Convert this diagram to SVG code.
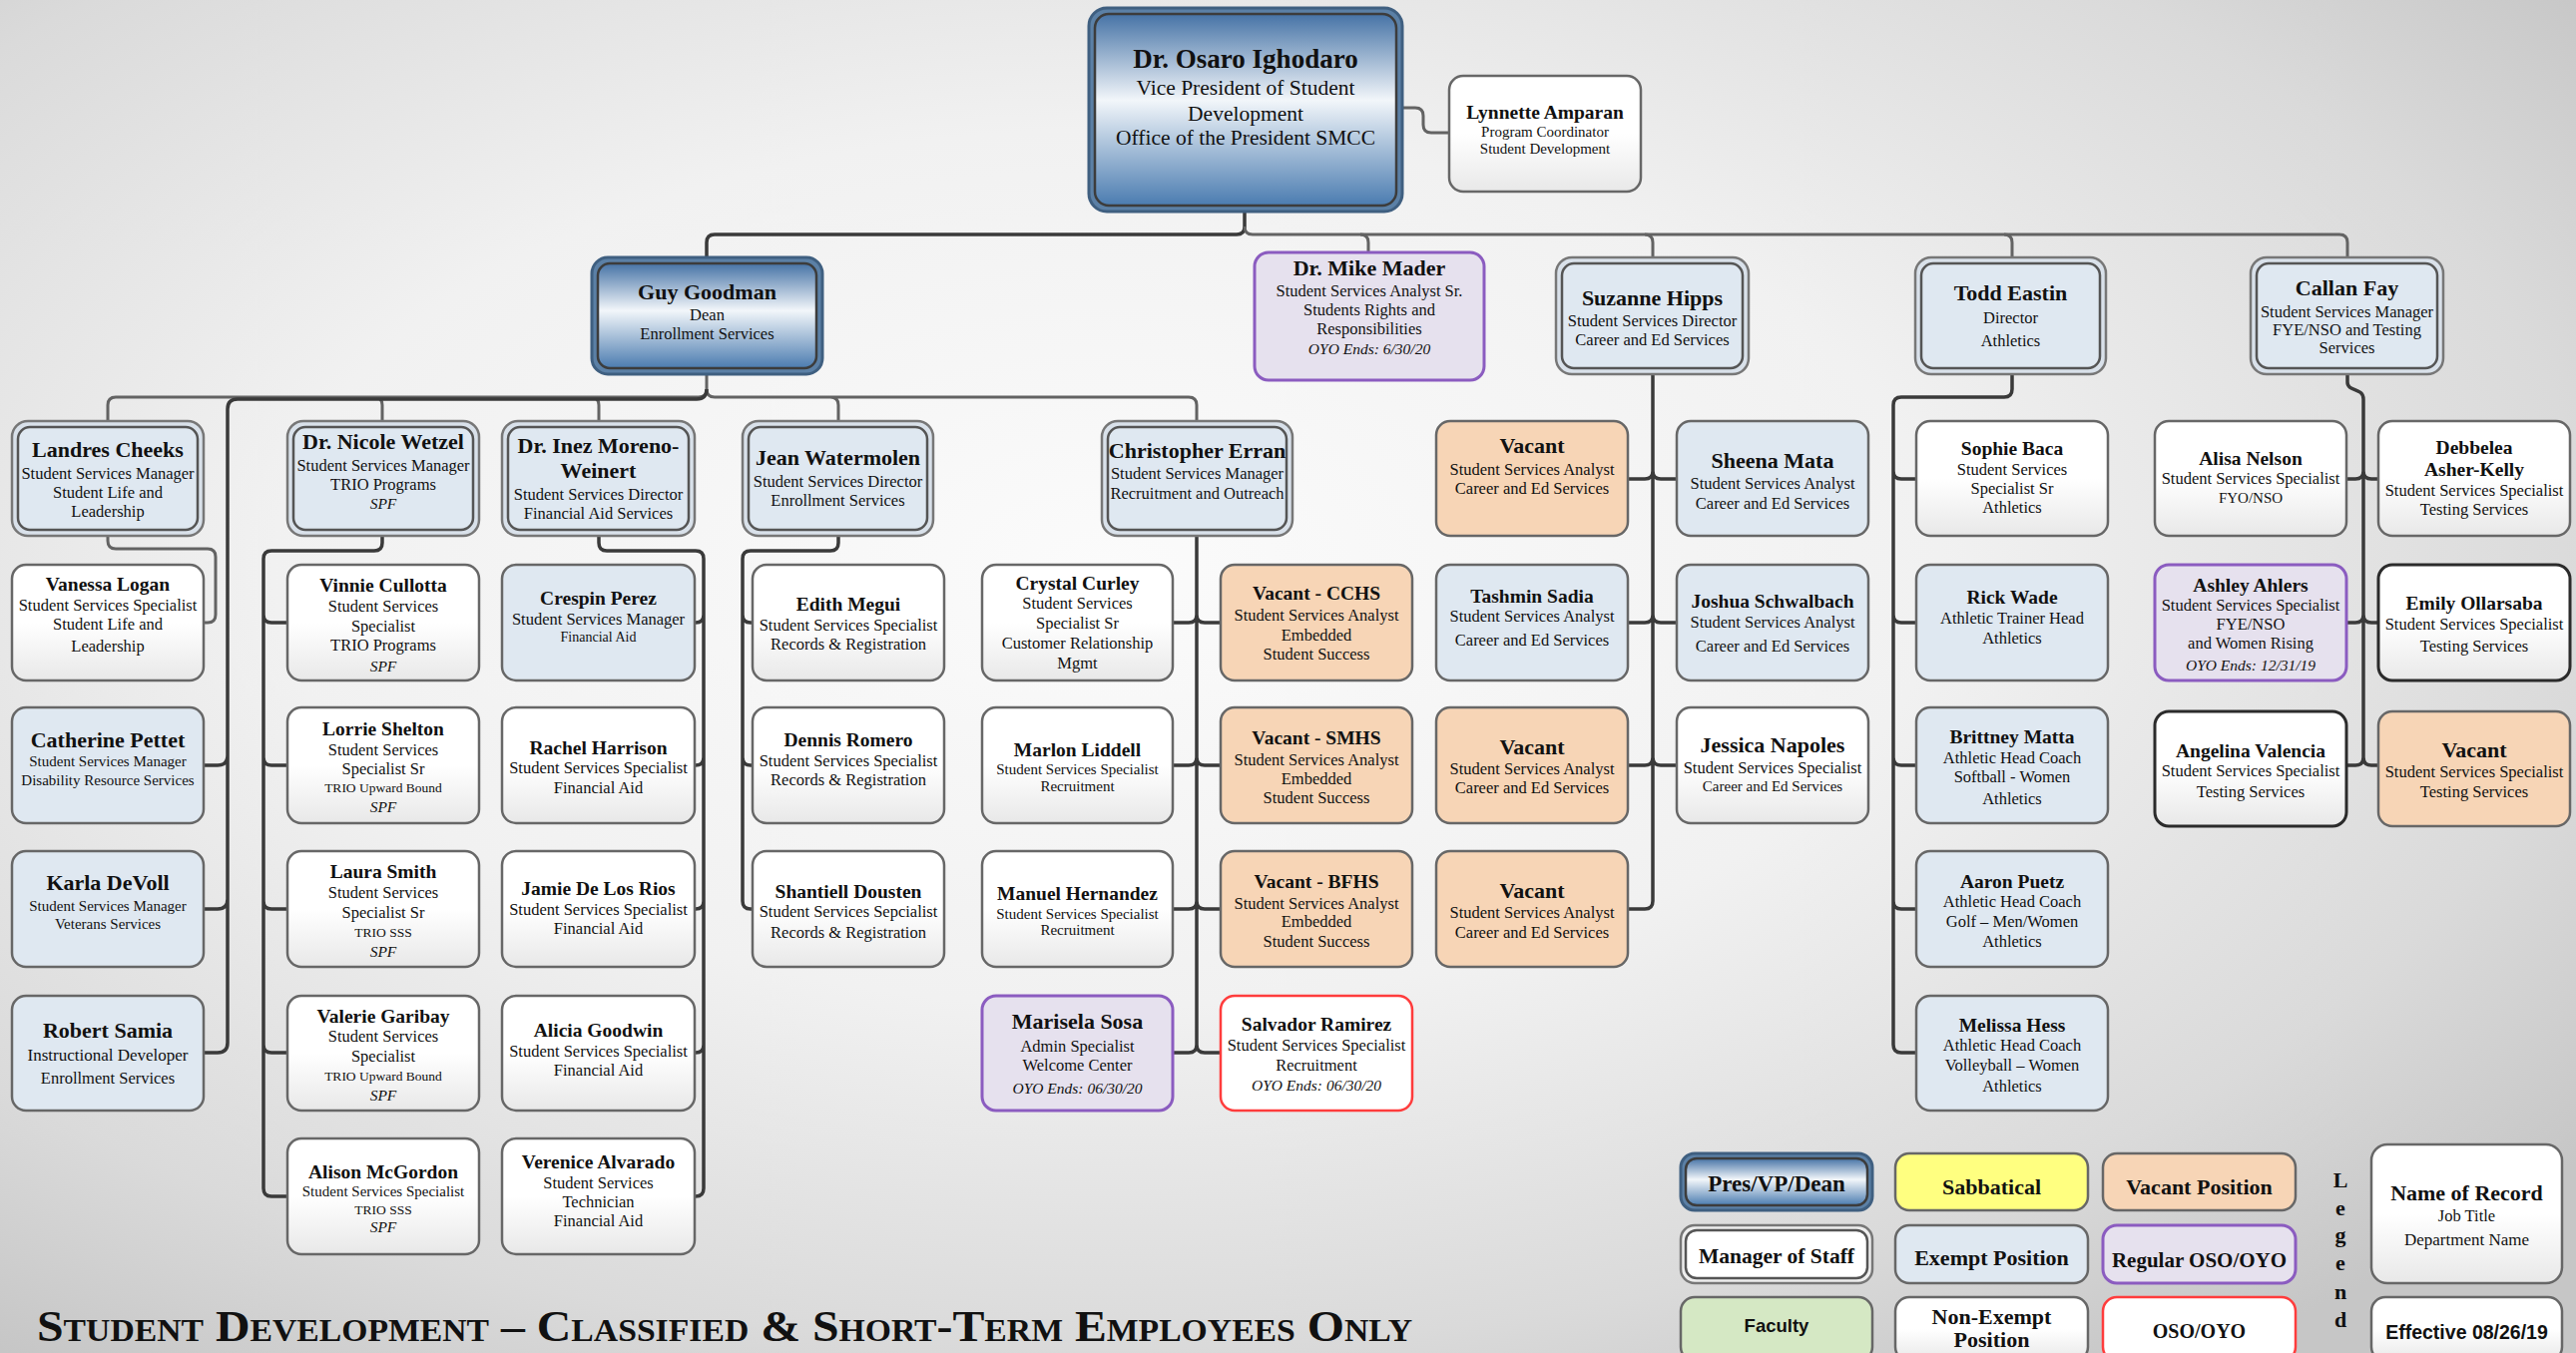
<svg xmlns="http://www.w3.org/2000/svg" width="2581" height="1356" viewBox="0 0 2581 1356">
<defs>
<radialGradient id="bg" cx="0.43" cy="0.42" r="0.72">
<stop offset="0" stop-color="#fbfbfb"/>
<stop offset="0.45" stop-color="#f1f1f1"/>
<stop offset="0.8" stop-color="#dadada"/>
<stop offset="1" stop-color="#c6c6c6"/>
</radialGradient>
<linearGradient id="gp" x1="0" y1="0" x2="0" y2="1">
<stop offset="0" stop-color="#4673a6"/>
<stop offset="0.45" stop-color="#f2f6fa"/>
<stop offset="1" stop-color="#4b7cb0"/>
</linearGradient>
<linearGradient id="gw" x1="0" y1="0" x2="0" y2="1">
<stop offset="0" stop-color="#ffffff"/>
<stop offset="0.5" stop-color="#ffffff"/>
<stop offset="1" stop-color="#e8e8e8"/>
</linearGradient>
</defs>
<style>
text{font-family:"Liberation Serif","Times New Roman",serif;fill:#111;text-anchor:middle}
.n{font-weight:bold;font-size:19.5px}
.nl{font-weight:bold;font-size:22px}
.s{font-size:16.5px}
.s15{font-size:15px}
.s14{font-size:14px}
.s13{font-size:13.5px}
.it{font-style:italic;font-size:15.5px}
.sans{font-family:"Liberation Sans",Arial,sans-serif}
.w{fill:url(#gw);stroke:#676767;stroke-width:2.5}
.e{fill:#dfe8f1;stroke:#676767;stroke-width:2.5}
.v{fill:#f7d5b6;stroke:#676767;stroke-width:2.5}
.p{fill:#e6e1ee;stroke:#8b5cc0;stroke-width:3}
.r{fill:#ffffff;stroke:#ff3c3c;stroke-width:2.5}
.k{fill:url(#gw);stroke:#2b2b2b;stroke-width:3}
.y{fill:#ffff80;stroke:#676767;stroke-width:2.5}
.g{fill:#d5e8c4;stroke:#676767;stroke-width:2.5}
.do{fill:#d9e1ea;stroke:#777;stroke-width:2.5}
.di{fill:#dfe8f1;stroke:#555;stroke-width:2.5}
.dwo{fill:#eeeeee;stroke:#777;stroke-width:2.5}
.dwi{fill:#ffffff;stroke:#555;stroke-width:2.5}
.po{fill:#5b80a6;stroke:#3f5f80;stroke-width:3}
.pi{fill:url(#gp);stroke:#3c3c3c;stroke-width:2.5}
.cl{fill:none;stroke:#636363;stroke-width:3}
.cd{fill:none;stroke:#3a3a3a;stroke-width:3.5}
</style>
<rect width="2581" height="1356" fill="url(#bg)"/>

<g id="connectors">
<path class="cl" d="M1405,108 H1418 Q1426,108 1426,116 V125 Q1426,133 1434,133 H1452"/>
<path class="cd" d="M1247,212 V227 Q1247,235 1239,235 H716 Q708,235 708,243 V258"/>
<path class="cl" d="M1247,227 Q1247,235 1255,235 H2344 Q2352,235 2352,243 V258"/>
<path class="cl" d="M1363,235 Q1371,235 1371,243 V253 M1648,235 Q1656,235 1656,243 V258 M2008,235 Q2016,235 2016,243 V258"/>
<path class="cl" d="M708,375 V390 Q708,398 700,398 H116 Q108,398 108,406 V422 M708,390 Q708,398 716,398 H1191 Q1199,398 1199,406 V422 M375,398 Q383,398 383,406 V422 M592,398 Q600,398 600,406 V422 M832,398 Q840,398 840,406 V422"/>
<path class="cd" d="M708,390 Q708,400 698,400 H238 Q228,400 228,410 V1045 Q228,1055 218,1055 H204 M228,757 Q228,767 218,767 H204 M228,901 Q228,911 218,911 H204"/>
<path class="cl" d="M108,537 V542 Q108,550 116,550 H208 Q216,550 216,558 V616 Q216,624 208,624 H204"/>
<path class="cd" d="M383,537 V544 Q383,552 375,552 H272 Q264,552 264,560 V1191 Q264,1199 272,1199 H288 M264,616 Q264,624 272,624 H288 M264,759 Q264,767 272,767 H288 M264,903 Q264,911 272,911 H288 M264,1047 Q264,1055 272,1055 H288"/>
<path class="cd" d="M600,537 V544 Q600,552 608,552 H697 Q705,552 705,560 V1191 Q705,1199 697,1199 H695 M705,616 Q705,624 697,624 H695 M705,759 Q705,767 697,767 H695 M705,903 Q705,911 697,911 H695 M705,1047 Q705,1055 697,1055 H695"/>
<path class="cd" d="M840,537 V544 Q840,552 832,552 H752 Q744,552 744,560 V903 Q744,911 752,911 H754 M744,616 Q744,624 752,624 H754 M744,759 Q744,767 752,767 H754"/>
<path class="cd" d="M1199,537 V1047 Q1199,1055 1191,1055 H1175 M1199,1047 Q1199,1055 1207,1055 H1223 M1199,616 Q1199,624 1191,624 H1175 M1199,616 Q1199,624 1207,624 H1223 M1199,759 Q1199,767 1191,767 H1175 M1199,759 Q1199,767 1207,767 H1223 M1199,903 Q1199,911 1191,911 H1175 M1199,903 Q1199,911 1207,911 H1223"/>
<path class="cd" d="M1656,375 V903 Q1656,911 1648,911 H1631 M1656,472 Q1656,480 1648,480 H1631 M1656,472 Q1656,480 1664,480 H1680 M1656,616 Q1656,624 1648,624 H1631 M1656,616 Q1656,624 1664,624 H1680 M1656,759 Q1656,767 1648,767 H1631 M1656,759 Q1656,767 1664,767 H1680"/>
<path class="cd" d="M2016,375 V390 Q2016,398 2008,398 H1905 Q1897,398 1897,406 V1047 Q1897,1055 1905,1055 H1920 M1897,472 Q1897,480 1905,480 H1920 M1897,616 Q1897,624 1905,624 H1920 M1897,759 Q1897,767 1905,767 H1920 M1897,903 Q1897,911 1905,911 H1920"/>
<path class="cd" d="M2352,375 V383 C2352,393 2368,388 2368,400 V759 Q2368,767 2360,767 H2351 M2368,759 Q2368,767 2376,767 H2383 M2368,472 Q2368,480 2360,480 H2351 M2368,472 Q2368,480 2376,480 H2383 M2368,616 Q2368,624 2360,624 H2351 M2368,616 Q2368,624 2376,624 H2383"/>
</g>

<g id="n-vp"><rect class="po" x="1091" y="8" width="314" height="204" rx="18"/><rect class="pi" x="1097" y="14" width="302" height="192" rx="14"/>
<text x="1248" y="68" font-weight="bold" font-size="27">Dr. Osaro Ighodaro</text>
<text x="1248" y="95" font-size="21.5">Vice President of Student</text>
<text x="1248" y="121" font-size="21.5">Development</text>
<text x="1248" y="145" font-size="21.5">Office of the President SMCC</text></g>

<g id="n-lynnette"><rect class="w" x="1452" y="76" width="192" height="116" rx="14"/>
<text x="1548" y="118.5" class="n">Lynnette Amparan</text>
<text x="1548" y="137" class="s15">Program Coordinator</text>
<text x="1548" y="154" class="s15">Student Development</text></g>

<g id="n-guy"><rect class="po" x="593" y="258" width="231" height="117" rx="16"/><rect class="pi" x="599" y="264" width="219" height="105" rx="12"/>
<text x="708.5" y="300" class="nl" font-size="21.5">Guy Goodman</text>
<text x="708.5" y="320.5" class="s">Dean</text>
<text x="708.5" y="339.5" class="s">Enrollment Services</text></g>

<g id="n-mike"><rect class="p" x="1257" y="253" width="230" height="128" rx="14"/>
<text x="1372" y="276" class="nl" font-size="21.5">Dr. Mike Mader</text>
<text x="1372" y="296.5" class="s">Student Services Analyst Sr.</text>
<text x="1372" y="315.5" class="s">Students Rights and</text>
<text x="1372" y="334.5" class="s">Responsibilities</text>
<text x="1372" y="354.5" class="it">OYO Ends: 6/30/20</text></g>

<g id="n-suzanne"><rect class="do" x="1559" y="258" width="193" height="117" rx="16"/><rect class="di" x="1565" y="264" width="181" height="105" rx="12"/>
<text x="1655.5" y="306" class="nl">Suzanne Hipps</text>
<text x="1655.5" y="326.5" class="s">Student Services Director</text>
<text x="1655.5" y="345.5" class="s">Career and Ed Services</text></g>

<g id="n-todd"><rect class="do" x="1919" y="258" width="191" height="117" rx="16"/><rect class="di" x="1925" y="264" width="179" height="105" rx="12"/>
<text x="2014.5" y="301" class="nl">Todd Eastin</text>
<text x="2014.5" y="323.5" class="s">Director</text>
<text x="2014.5" y="346.5" class="s">Athletics</text></g>

<g id="n-callan"><rect class="do" x="2255" y="258" width="193" height="117" rx="16"/><rect class="di" x="2261" y="264" width="181" height="105" rx="12"/>
<text x="2351.5" y="296" class="nl" font-size="21">Callan Fay</text>
<text x="2351.5" y="317.5" class="s">Student Services Manager</text>
<text x="2351.5" y="335.5" class="s">FYE/NSO and Testing</text>
<text x="2351.5" y="353.5" class="s">Services</text></g>

<g id="n-landres"><rect class="do" x="12" y="422" width="192" height="115" rx="16"/><rect class="di" x="18" y="428" width="180" height="103" rx="12"/>
<text x="108" y="458" class="nl">Landres Cheeks</text>
<text x="108" y="479.5" class="s">Student Services Manager</text>
<text x="108" y="498.5" class="s">Student Life and</text>
<text x="108" y="517.5" class="s">Leadership</text></g>

<g id="n-nicole"><rect class="do" x="288" y="422" width="192" height="115" rx="16"/><rect class="di" x="294" y="428" width="180" height="103" rx="12"/>
<text x="384" y="450" class="nl">Dr. Nicole Wetzel</text>
<text x="384" y="471.5" class="s">Student Services Manager</text>
<text x="384" y="490.5" class="s">TRIO Programs</text>
<text x="384" y="509.5" class="it">SPF</text></g>

<g id="n-inez"><rect class="do" x="503" y="422" width="193" height="115" rx="16"/><rect class="di" x="509" y="428" width="181" height="103" rx="12"/>
<text x="599.5" y="454" class="nl">Dr. Inez Moreno-</text>
<text x="599.5" y="479" class="nl">Weinert</text>
<text x="599.5" y="500.5" class="s">Student Services Director</text>
<text x="599.5" y="519.5" class="s">Financial Aid Services</text></g>

<g id="n-jean"><rect class="do" x="744" y="422" width="191" height="115" rx="16"/><rect class="di" x="750" y="428" width="179" height="103" rx="12"/>
<text x="839.5" y="466" class="nl">Jean Watermolen</text>
<text x="839.5" y="487.5" class="s">Student Services Director</text>
<text x="839.5" y="506.5" class="s">Enrollment Services</text></g>

<g id="n-christopher"><rect class="do" x="1104" y="422" width="191" height="115" rx="16"/><rect class="di" x="1110" y="428" width="179" height="103" rx="12"/>
<text x="1199.5" y="459" class="nl" font-size="21.5">Christopher Erran</text>
<text x="1199.5" y="479.5" class="s">Student Services Manager</text>
<text x="1199.5" y="499.5" class="s">Recruitment and Outreach</text></g>

<g id="n-vanessa"><rect class="w" x="12" y="566" width="192" height="116" rx="14"/>
<text x="108" y="591.5" class="n" font-size="19">Vanessa Logan</text>
<text x="108" y="611.5" class="s">Student Services Specialist</text>
<text x="108" y="630.5" class="s">Student Life and</text>
<text x="108" y="652.5" class="s">Leadership</text></g>

<g id="n-catherine"><rect class="e" x="12" y="709" width="192" height="116" rx="14"/>
<text x="108" y="749" class="nl">Catherine Pettet</text>
<text x="108" y="768" class="s15">Student Services Manager</text>
<text x="108" y="787" class="s15">Disability Resource Services</text></g>

<g id="n-karla"><rect class="e" x="12" y="853" width="192" height="116" rx="14"/>
<text x="108" y="892" class="nl">Karla DeVoll</text>
<text x="108" y="913" class="s15">Student Services Manager</text>
<text x="108" y="931" class="s15">Veterans Services</text></g>

<g id="n-robert"><rect class="e" x="12" y="998" width="192" height="115" rx="14"/>
<text x="108" y="1040" class="nl">Robert Samia</text>
<text x="108" y="1062.5" font-size="17">Instructional Developer</text>
<text x="108" y="1085.5" class="s">Enrollment Services</text></g>

<g id="n-vinnie"><rect class="w" x="288" y="566" width="192" height="116" rx="14"/>
<text x="384" y="592.5" class="n" font-size="19">Vinnie Cullotta</text>
<text x="384" y="612.5" class="s">Student Services</text>
<text x="384" y="632.5" class="s">Specialist</text>
<text x="384" y="651.5" class="s">TRIO Programs</text>
<text x="384" y="672.5" class="it">SPF</text></g>

<g id="n-lorrie"><rect class="w" x="288" y="709" width="192" height="116" rx="14"/>
<text x="384" y="736.5" class="n">Lorrie Shelton</text>
<text x="384" y="756.5" class="s">Student Services</text>
<text x="384" y="775.5" class="s">Specialist Sr</text>
<text x="384" y="793.5" class="s13">TRIO Upward Bound</text>
<text x="384" y="813.5" class="it">SPF</text></g>

<g id="n-laura"><rect class="w" x="288" y="853" width="192" height="116" rx="14"/>
<text x="384" y="879.5" class="n" font-size="19">Laura Smith</text>
<text x="384" y="899.5" class="s">Student Services</text>
<text x="384" y="919.5" class="s">Specialist Sr</text>
<text x="384" y="938.5" class="s13">TRIO SSS</text>
<text x="384" y="958.5" class="it">SPF</text></g>

<g id="n-valerie"><rect class="w" x="288" y="998" width="192" height="115" rx="14"/>
<text x="384" y="1024.5" class="n" font-size="19">Valerie Garibay</text>
<text x="384" y="1043.5" class="s">Student Services</text>
<text x="384" y="1063.5" class="s">Specialist</text>
<text x="384" y="1082.5" class="s13">TRIO Upward Bound</text>
<text x="384" y="1102.5" class="it">SPF</text></g>

<g id="n-alison"><rect class="w" x="288" y="1141" width="192" height="116" rx="14"/>
<text x="384" y="1180.5" class="n" font-size="19">Alison McGordon</text>
<text x="384" y="1199" class="s15">Student Services Specialist</text>
<text x="384" y="1217" class="s13">TRIO SSS</text>
<text x="384" y="1235" class="it">SPF</text></g>

<g id="n-crespin"><rect class="e" x="503" y="566" width="193" height="116" rx="14"/>
<text x="599.5" y="605.5" class="n">Crespin Perez</text>
<text x="599.5" y="625.5" class="s">Student Services Manager</text>
<text x="599.5" y="643" class="s14">Financial Aid</text></g>

<g id="n-rachel"><rect class="w" x="503" y="709" width="193" height="116" rx="14"/>
<text x="599.5" y="755.5" class="n">Rachel Harrison</text>
<text x="599.5" y="774.5" class="s">Student Services Specialist</text>
<text x="599.5" y="794.5" class="s">Financial Aid</text></g>

<g id="n-jamie"><rect class="w" x="503" y="853" width="193" height="116" rx="14"/>
<text x="599.5" y="896.5" class="n" font-size="19">Jamie De Los Rios</text>
<text x="599.5" y="916.5" class="s">Student Services Specialist</text>
<text x="599.5" y="935.5" class="s">Financial Aid</text></g>

<g id="n-alicia"><rect class="w" x="503" y="998" width="193" height="115" rx="14"/>
<text x="599.5" y="1038.5" class="n" font-size="19">Alicia Goodwin</text>
<text x="599.5" y="1058.5" class="s">Student Services Specialist</text>
<text x="599.5" y="1077.5" class="s">Financial Aid</text></g>

<g id="n-verenice"><rect class="w" x="503" y="1141" width="193" height="116" rx="14"/>
<text x="599.5" y="1170.5" class="n" font-size="19">Verenice Alvarado</text>
<text x="599.5" y="1190.5" class="s">Student Services</text>
<text x="599.5" y="1209.5" class="s">Technician</text>
<text x="599.5" y="1228.5" class="s">Financial Aid</text></g>

<g id="n-edith"><rect class="w" x="754" y="566" width="192" height="116" rx="14"/>
<text x="850" y="611.5" class="n" font-size="19">Edith Megui</text>
<text x="850" y="631.5" class="s">Student Services Specialist</text>
<text x="850" y="650.5" class="s">Records &amp; Registration</text></g>

<g id="n-dennis"><rect class="w" x="754" y="709" width="192" height="116" rx="14"/>
<text x="850" y="747.5" class="n">Dennis Romero</text>
<text x="850" y="767.5" class="s">Student Services Specialist</text>
<text x="850" y="786.5" class="s">Records &amp; Registration</text></g>

<g id="n-shantiell"><rect class="w" x="754" y="853" width="192" height="116" rx="14"/>
<text x="850" y="899.5" class="n">Shantiell Dousten</text>
<text x="850" y="918.5" class="s">Student Services Sepcialist</text>
<text x="850" y="939.5" class="s">Records &amp; Registration</text></g>

<g id="n-crystal"><rect class="w" x="984" y="566" width="191" height="116" rx="14"/>
<text x="1079.5" y="590.5" class="n" font-size="19">Crystal Curley</text>
<text x="1079.5" y="609.5" class="s">Student Services</text>
<text x="1079.5" y="629.5" class="s">Specialist Sr</text>
<text x="1079.5" y="649.5" class="s">Customer Relationship</text>
<text x="1079.5" y="669.5" class="s">Mgmt</text></g>

<g id="n-marlon"><rect class="w" x="984" y="709" width="191" height="116" rx="14"/>
<text x="1079.5" y="757.5" class="n" font-size="19">Marlon Liddell</text>
<text x="1079.5" y="776" class="s15">Student Services Specialist</text>
<text x="1079.5" y="793" class="s15">Recruitment</text></g>

<g id="n-manuel"><rect class="w" x="984" y="853" width="191" height="116" rx="14"/>
<text x="1079.5" y="901.5" class="n">Manuel Hernandez</text>
<text x="1079.5" y="921" class="s15">Student Services Specialist</text>
<text x="1079.5" y="937" class="s15">Recruitment</text></g>

<g id="n-marisela"><rect class="p" x="984" y="998" width="191" height="115" rx="14"/>
<text x="1079.5" y="1031" class="nl">Marisela Sosa</text>
<text x="1079.5" y="1053.5" class="s">Admin Specialist</text>
<text x="1079.5" y="1072.5" class="s">Welcome Center</text>
<text x="1079.5" y="1095.5" class="it">OYO Ends: 06/30/20</text></g>

<g id="n-vacant-cchs"><rect class="v" x="1223" y="566" width="192" height="116" rx="14"/>
<text x="1319" y="601" class="n" font-size="18">Vacant - CCHS</text>
<text x="1319" y="621.5" class="s">Student Services Analyst</text>
<text x="1319" y="641.5" class="s">Embedded</text>
<text x="1319" y="660.5" class="s">Student Success</text></g>

<g id="n-vacant-smhs"><rect class="v" x="1223" y="709" width="192" height="116" rx="14"/>
<text x="1319" y="746" class="n" font-size="18">Vacant - SMHS</text>
<text x="1319" y="766.5" class="s">Student Services Analyst</text>
<text x="1319" y="785.5" class="s">Embedded</text>
<text x="1319" y="804.5" class="s">Student Success</text></g>

<g id="n-vacant-bfhs"><rect class="v" x="1223" y="853" width="192" height="116" rx="14"/>
<text x="1319" y="890" class="n" font-size="18">Vacant - BFHS</text>
<text x="1319" y="910.5" class="s">Student Services Analyst</text>
<text x="1319" y="928.5" class="s">Embedded</text>
<text x="1319" y="948.5" class="s">Student Success</text></g>

<g id="n-salvador"><rect class="r" x="1223" y="998" width="192" height="115" rx="14"/>
<text x="1319" y="1032.5" class="n">Salvador Ramirez</text>
<text x="1319" y="1052.5" class="s">Student Services Specialist</text>
<text x="1319" y="1072.5" class="s">Recruitment</text>
<text x="1319" y="1092.5" class="it">OYO Ends: 06/30/20</text></g>

<g id="n-vacant-ced1"><rect class="v" x="1439" y="422" width="192" height="115" rx="14"/>
<text x="1535" y="454" class="nl">Vacant</text>
<text x="1535" y="475.5" class="s">Student Services Analyst</text>
<text x="1535" y="494.5" class="s">Career and Ed Services</text></g>

<g id="n-tashmin"><rect class="e" x="1439" y="566" width="192" height="116" rx="14"/>
<text x="1535" y="603.5" class="n">Tashmin Sadia</text>
<text x="1535" y="622.5" class="s">Student Services Analyst</text>
<text x="1535" y="646.5" class="s">Career and Ed Services</text></g>

<g id="n-vacant-ced2"><rect class="v" x="1439" y="709" width="192" height="116" rx="14"/>
<text x="1535" y="756" class="nl">Vacant</text>
<text x="1535" y="775.5" class="s">Student Services Analyst</text>
<text x="1535" y="794.5" class="s">Career and Ed Services</text></g>

<g id="n-vacant-ced3"><rect class="v" x="1439" y="853" width="192" height="116" rx="14"/>
<text x="1535" y="900" class="nl">Vacant</text>
<text x="1535" y="919.5" class="s">Student Services Analyst</text>
<text x="1535" y="939.5" class="s">Career and Ed Services</text></g>

<g id="n-sheena"><rect class="e" x="1680" y="422" width="192" height="115" rx="14"/>
<text x="1776" y="469" class="nl">Sheena Mata</text>
<text x="1776" y="489.5" class="s">Student Services Analyst</text>
<text x="1776" y="509.5" class="s">Career and Ed Services</text></g>

<g id="n-joshua"><rect class="e" x="1680" y="566" width="192" height="116" rx="14"/>
<text x="1776" y="608.5" class="n">Joshua Schwalbach</text>
<text x="1776" y="628.5" class="s">Student Services Analyst</text>
<text x="1776" y="652.5" class="s">Career and Ed Services</text></g>

<g id="n-jessica"><rect class="w" x="1680" y="709" width="192" height="116" rx="14"/>
<text x="1776" y="754" class="nl">Jessica Napoles</text>
<text x="1776" y="774.5" class="s">Student Services Specialist</text>
<text x="1776" y="792.5" class="s15">Career and Ed Services</text></g>

<g id="n-sophie"><rect class="w" x="1920" y="422" width="192" height="115" rx="14"/>
<text x="2016" y="455.5" class="n">Sophie Baca</text>
<text x="2016" y="475.5" class="s">Student Services</text>
<text x="2016" y="494.5" class="s">Specialist Sr</text>
<text x="2016" y="513.5" class="s">Athletics</text></g>

<g id="n-rick"><rect class="e" x="1920" y="566" width="192" height="116" rx="14"/>
<text x="2016" y="604.5" class="n">Rick Wade</text>
<text x="2016" y="624.5" class="s">Athletic Trainer Head</text>
<text x="2016" y="644.5" class="s">Athletics</text></g>

<g id="n-brittney"><rect class="e" x="1920" y="709" width="192" height="116" rx="14"/>
<text x="2016" y="744.5" class="n" font-size="19">Brittney Matta</text>
<text x="2016" y="764.5" class="s">Athletic Head Coach</text>
<text x="2016" y="783.5" class="s">Softball - Women</text>
<text x="2016" y="805.5" class="s">Athletics</text></g>

<g id="n-aaron"><rect class="e" x="1920" y="853" width="192" height="116" rx="14"/>
<text x="2016" y="889.5" class="n">Aaron Puetz</text>
<text x="2016" y="908.5" class="s">Athletic Head Coach</text>
<text x="2016" y="928.5" class="s">Golf – Men/Women</text>
<text x="2016" y="948.5" class="s">Athletics</text></g>

<g id="n-melissa"><rect class="e" x="1920" y="998" width="192" height="115" rx="14"/>
<text x="2016" y="1033.5" class="n">Melissa Hess</text>
<text x="2016" y="1052.5" class="s">Athletic Head Coach</text>
<text x="2016" y="1072.5" class="s">Volleyball – Women</text>
<text x="2016" y="1093.5" class="s">Athletics</text></g>

<g id="n-alisa"><rect class="w" x="2159" y="422" width="192" height="115" rx="14"/>
<text x="2255" y="465.5" class="n">Alisa Nelson</text>
<text x="2255" y="484.5" class="s">Student Services Specialist</text>
<text x="2255" y="503.5" class="s15">FYO/NSO</text></g>

<g id="n-ashley"><rect class="p" x="2159" y="566" width="192" height="116" rx="14"/>
<text x="2255" y="592.5" class="n">Ashley Ahlers</text>
<text x="2255" y="611.5" class="s">Student Services Specialist</text>
<text x="2255" y="630.5" class="s">FYE/NSO</text>
<text x="2255" y="649.5" class="s">and Women Rising</text>
<text x="2255" y="671.5" class="it">OYO Ends: 12/31/19</text></g>

<g id="n-angelina"><rect class="k" x="2159" y="713" width="192" height="115" rx="14"/>
<text x="2255" y="758.5" class="n">Angelina Valencia</text>
<text x="2255" y="777.5" class="s">Student Services Specialist</text>
<text x="2255" y="798.5" class="s">Testing Services</text></g>

<g id="n-debbelea"><rect class="w" x="2383" y="422" width="192" height="115" rx="14"/>
<text x="2479" y="455" class="n" font-size="20">Debbelea</text>
<text x="2479" y="477" class="n" font-size="20">Asher-Kelly</text>
<text x="2479" y="496.5" class="s">Student Services Specialist</text>
<text x="2479" y="515.5" class="s">Testing Services</text></g>

<g id="n-emily"><rect class="k" x="2383" y="566" width="192" height="116" rx="14"/>
<text x="2479" y="610.5" class="n">Emily Ollarsaba</text>
<text x="2479" y="630.5" class="s">Student Services Specialist</text>
<text x="2479" y="652.5" class="s">Testing Services</text></g>

<g id="n-vacant-testing"><rect class="v" x="2383" y="713" width="192" height="115" rx="14"/>
<text x="2479" y="759" class="nl">Vacant</text>
<text x="2479" y="778.5" class="s">Student Services Specialist</text>
<text x="2479" y="798.5" class="s">Testing Services</text></g>

<g id="legend">
<g id="lg-pres"><rect class="po" x="1684" y="1156" width="192" height="57" rx="14"/><rect class="pi" x="1689" y="1161" width="182" height="47" rx="11"/>
<text x="1780" y="1194" font-weight="bold" font-size="23">Pres/VP/Dean</text></g>
<g id="lg-manager"><rect class="dwo" x="1684" y="1228" width="192" height="58" rx="14"/><rect class="dwi" x="1689" y="1233" width="182" height="48" rx="11"/>
<text x="1780" y="1265.5" font-weight="bold" font-size="21.5">Manager of Staff</text></g>
<g id="lg-faculty"><rect class="g" x="1684" y="1300" width="192" height="64" rx="14"/>
<text x="1780" y="1334.5" class="sans" font-weight="bold" font-size="18.5">Faculty</text></g>
<g id="lg-sabbatical"><rect class="y" x="1899" y="1156" width="193" height="57" rx="14"/>
<text x="1995.5" y="1197" font-weight="bold" font-size="22">Sabbatical</text></g>
<g id="lg-exempt"><rect class="e" x="1899" y="1228" width="193" height="58" rx="14"/>
<text x="1995.5" y="1267.5" font-weight="bold" font-size="22">Exempt Position</text></g>
<g id="lg-nonexempt"><rect class="w" x="1899" y="1300" width="193" height="64" rx="14"/>
<text x="1995.5" y="1326.5" font-weight="bold" font-size="22">Non-Exempt</text>
<text x="1995.5" y="1349.5" font-weight="bold" font-size="22">Position</text></g>
<g id="lg-vacant"><rect class="v" x="2107" y="1156" width="193" height="57" rx="14"/>
<text x="2203.5" y="1197" font-weight="bold" font-size="22">Vacant Position</text></g>
<g id="lg-regular"><rect class="p" x="2107" y="1228" width="193" height="58" rx="14"/>
<text x="2203.5" y="1269.5" font-weight="bold" font-size="21">Regular OSO/OYO</text></g>
<g id="lg-oso"><rect class="r" x="2107" y="1300" width="193" height="64" rx="14"/>
<text x="2203.5" y="1341" font-weight="bold" font-size="20">OSO/OYO</text></g>
<g id="lg-word" font-weight="bold" font-size="22">
<text x="2345" y="1190">L</text><text x="2345" y="1218">e</text><text x="2345" y="1245">g</text><text x="2345" y="1273">e</text><text x="2345" y="1302">n</text><text x="2345" y="1330">d</text></g>
<g id="lg-record"><rect class="w" x="2376" y="1147" width="191" height="139" rx="16"/>
<text x="2471.5" y="1203" font-weight="bold" font-size="22">Name of Record</text>
<text x="2471.5" y="1223.5" font-size="16.5">Job Title</text>
<text x="2471.5" y="1247.5" font-size="17">Department Name</text></g>
<g id="lg-effective"><rect class="w" x="2376" y="1300" width="191" height="64" rx="14"/>
<text x="2471.5" y="1342" class="sans" font-weight="bold" font-size="19.5">Effective 08/26/19</text></g>
</g>

<text id="title" x="37" y="1344" text-anchor="start" style="text-anchor:start" font-weight="bold" font-size="44" font-variant="small-caps" textLength="1378" lengthAdjust="spacingAndGlyphs">Student Development – Classified &amp; Short-Term Employees Only</text>
</svg>
